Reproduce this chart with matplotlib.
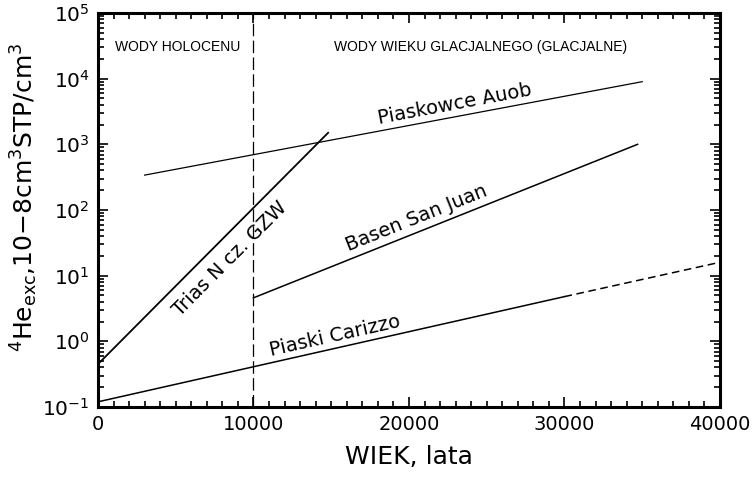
import numpy as np
import matplotlib
matplotlib.use("Agg")
import matplotlib.pyplot as plt
from matplotlib.ticker import MultipleLocator, LogLocator, NullFormatter, LogFormatterSciNotation

plt.rcParams['font.family'] = ['DejaVu Sans']
plt.rcParams['mathtext.default'] = 'regular'

# wiek [lata] i nadmiar helu 4He [10^-8 cm3 STP/cm3]
trias_x = [0, 14800]
trias_y = [0.45, 1500]
auob_x = [3000, 35000]
auob_y = [340, 9000]
juan_x = [10000, 34700]
juan_y = [4.6, 1000]
carizzo_x = [0, 30000]
carizzo_y = [0.12, 4.8]
carizzo_ext_x = [30000, 40000]   # ekstrapolacja
carizzo_ext_y = [4.8, 16]

granica = 10000   # holocen / glacjal
y_ticks = [1e-1, 1e0, 1e1, 1e2, 1e3, 1e4, 1e5]

fig = plt.figure(figsize=(7.55, 4.78), dpi=100)
ax = fig.add_axes([0.1298, 0.1485, 0.9536 - 0.1298, 0.9728 - 0.1485])
ax.set_yscale('log')

ax.plot(trias_x, trias_y, color='black', lw=1.3)
ax.plot(auob_x, auob_y, color='black', lw=0.9)
ax.plot(juan_x, juan_y, color='black', lw=1.1)
ax.plot(carizzo_x, carizzo_y, color='black', lw=1.1)
ax.plot(carizzo_ext_x, carizzo_ext_y, color='black', lw=1.1, dashes=(5, 3))
ax.axvline(granica, color='black', lw=0.9, dashes=(10, 3.5))

ax.set_xlim(0, 40000)
ax.set_ylim(0.1, 1e5)
ax.set_yticks(y_ticks)
ax.yaxis.set_major_formatter(LogFormatterSciNotation())
ax.yaxis.set_minor_locator(LogLocator(base=10, subs=np.arange(2, 10), numticks=20))
ax.yaxis.set_minor_formatter(NullFormatter())
ax.xaxis.set_major_locator(MultipleLocator(10000))
ax.xaxis.set_minor_locator(MultipleLocator(1000))


def line_label(xs, ys, xt, text, dist):
    # napis wzdluz linii, przesuniety prostopadle o dist punktow
    p0 = ax.transData.transform((xs[0], ys[0]))
    p1 = ax.transData.transform((xs[1], ys[1]))
    ang = np.arctan2(p1[1] - p0[1], p1[0] - p0[0])
    ly = np.interp(xt, xs, np.log10(ys))
    off = (-np.sin(ang) * dist, np.cos(ang) * dist)
    ax.annotate(text, (xt, 10 ** ly), xytext=off, textcoords='offset points',
                rotation=np.degrees(ang), rotation_mode='anchor',
                ha='center', va='center', fontsize=14)


line_label(trias_x, trias_y, 7600, 'Trias N cz. GZW', -14)
line_label(auob_x, auob_y, 23100, 'Piaskowce Auob', 9)
line_label(juan_x, juan_y, 20800, 'Basen San Juan', 9.5)
line_label(carizzo_x, carizzo_y, 15400, 'Piaski Carizzo', 9)

ax.text(5100, 0.914, 'WODY HOLOCENU', transform=ax.get_xaxis_transform(),
        ha='center', va='center', fontsize=10, family='Liberation Sans')
ax.text(24600, 0.914, 'WODY WIEKU GLACJALNEGO (GLACJALNE)',
        transform=ax.get_xaxis_transform(),
        ha='center', va='center', fontsize=10, family='Liberation Sans')

ax.tick_params(which='both', direction='in', top=True, right=True, width=1.2)
ax.tick_params(which='major', length=7, labelsize=14, pad=6)
ax.tick_params(which='minor', length=4.5)
ax.tick_params(axis='y', which='major', labelsize=14.5)
for s in ax.spines.values():
    s.set_linewidth(2.2)

ax.set_xlabel('WIEK, lata', fontsize=18, labelpad=8)
ax.set_ylabel('$^4$He$_{exc}$,10\u22128cm$^3$STP/cm$^3$', fontsize=18)
ax.yaxis.set_label_coords(-0.094, 0.533)

fig.savefig('out.png', dpi=100)
